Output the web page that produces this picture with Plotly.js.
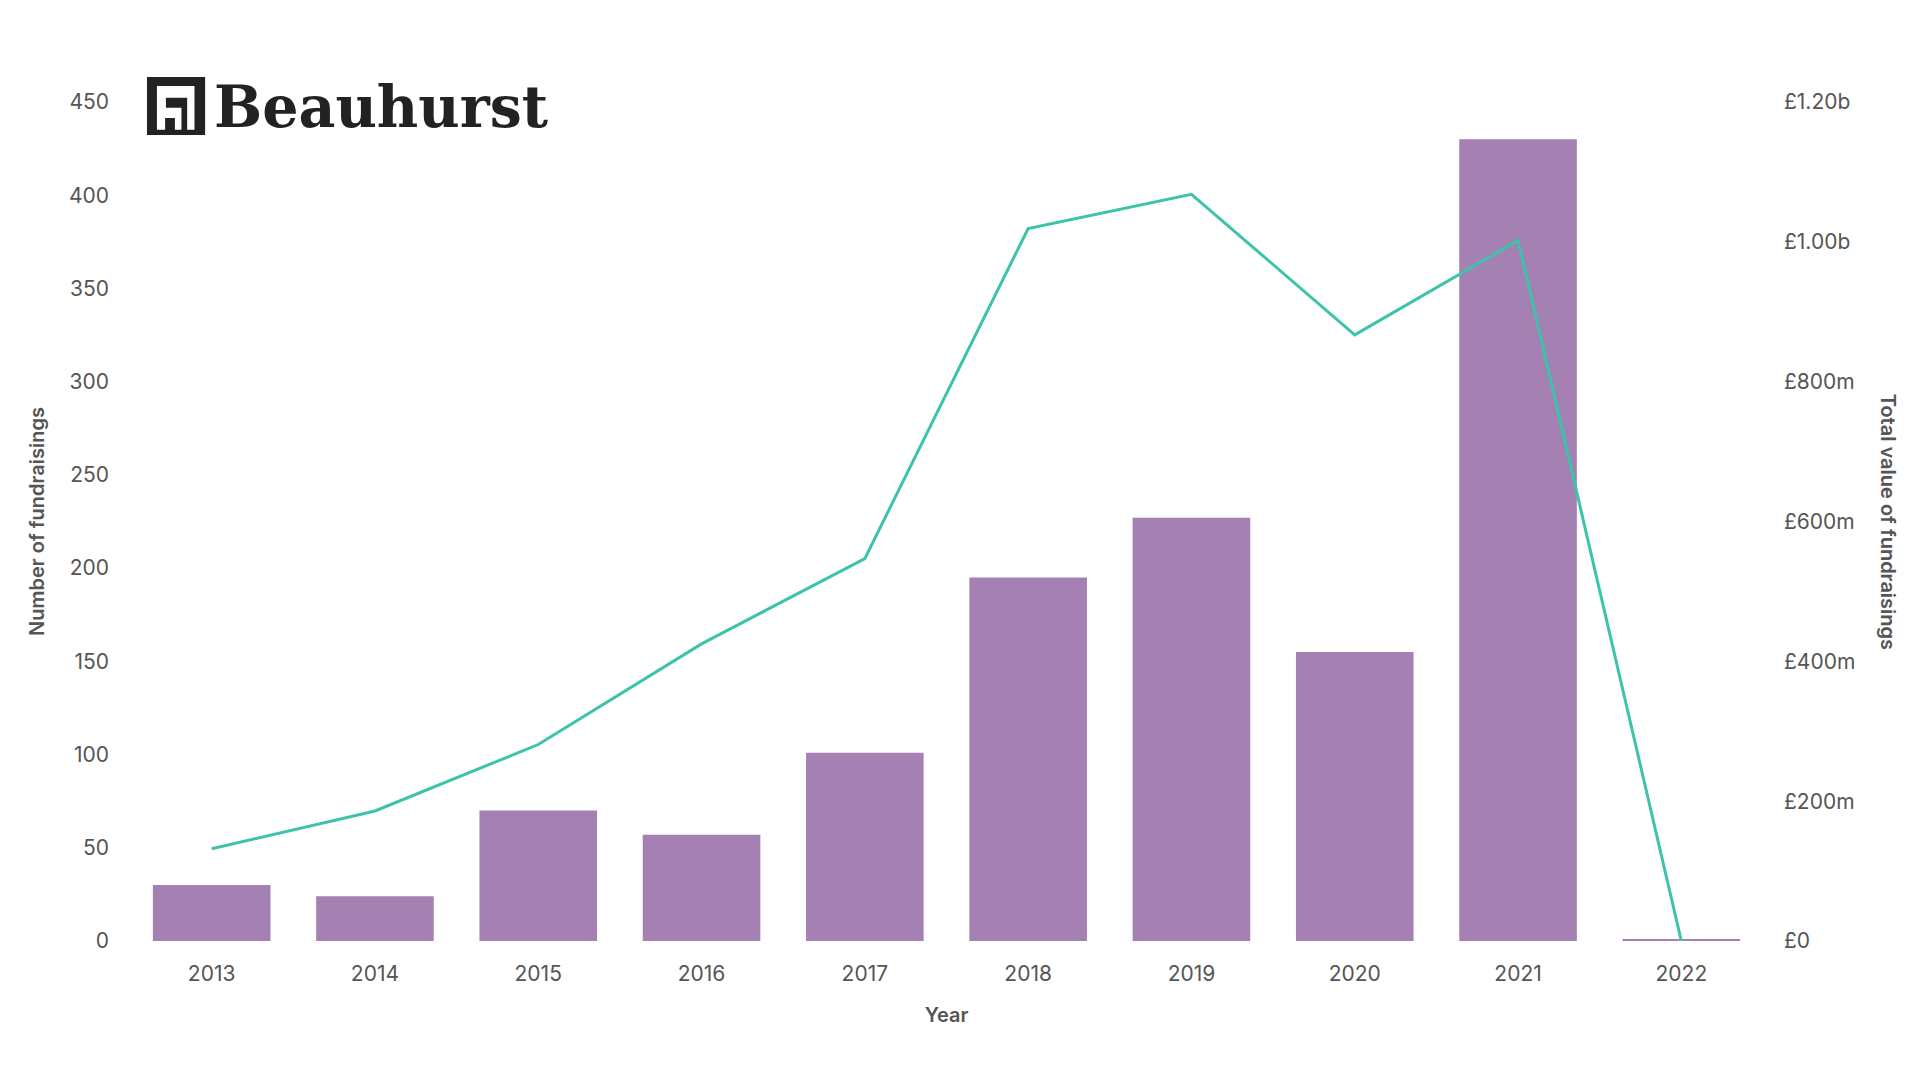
<!DOCTYPE html>
<html><head><script src="https://cdn.plot.ly/plotly-3.0.1.min.js"></script>
<style>body{margin:0;background:#fff}#c{width:1920px;height:1080px}</style></head>
<body><div id="c"></div><script>
const years=['2013','2014','2015','2016','2017','2018','2019','2020','2021','2022'];
const counts=[30,24,70,57,101,195,227,155,430,1];
const values=[132e6,186e6,281e6,425e6,547e6,1019e6,1068e6,867e6,1002e6,0];
const rightTickVals=[0,200e6,400e6,600e6,800e6,1000e6,1200e6];
const rightTickText=['£0','£200m','£400m','£600m','£800m','£1.00b','£1.20b'];
const f={family:'Inter, Roboto, sans-serif',size:21,color:'#555'};
const tf={family:'Inter, Roboto, sans-serif',size:20,color:'#555',weight:600};
Plotly.newPlot('c',[
 {type:'bar',x:years,y:counts,marker:{color:'#a580b2'},width:0.72,hoverinfo:'none'},
 {type:'scatter',mode:'lines',x:years,y:values,yaxis:'y2',line:{color:'#3cc3aa',width:3}}
],{
 width:1920,height:1080,showlegend:false,paper_bgcolor:'#fff',plot_bgcolor:'#fff',
 margin:{l:130,r:157,t:102,b:139},
 font:f,
 xaxis:{type:'category',showgrid:false,showline:false,ticks:'outside',ticklen:14,tickcolor:'rgba(0,0,0,0)',tickfont:f,
   title:{text:'Year',font:tf,standoff:22}},
 yaxis:{range:[0,450],dtick:50,showgrid:false,zeroline:false,tickfont:f,ticklabelstandoff:20,
   title:{text:'Number of fundraisings',font:tf,standoff:18}},
 yaxis2:{overlaying:'y',side:'right',range:[0,1.2e9],tickvals:rightTickVals,ticktext:rightTickText,
   showgrid:false,zeroline:false,tickfont:f,ticklabelstandoff:20},
 shapes:[{type:'rect',xref:'paper',yref:'paper',x0:0.0104,x1:0.046,y0:0.9607,y1:1.0298,fillcolor:'#222',line:{width:0}},
  {type:'path',xref:'paper',yref:'paper',path:'M 0.0165,0.967 L 0.0165,1.019 L 0.0395,1.019 L 0.0395,0.967 L 0.0350,0.967 L 0.0350,1.005 L 0.0220,1.005 L 0.0220,0.993 L 0.0315,0.993 L 0.0315,0.967 L 0.0275,0.967 L 0.0275,0.981 L 0.0215,0.981 L 0.0215,0.967 Z',fillcolor:'#fff',line:{width:0}}],
 annotations:[{xref:'paper',yref:'paper',x:0.05,y:0.995,xanchor:'left',yanchor:'middle',showarrow:false,
   text:'Beauhurst',font:{family:'DejaVu Serif, Liberation Serif, serif',size:57,color:'#222',weight:600}},
  {xref:'paper',yref:'paper',x:1.077,y:0.5,xanchor:'center',yanchor:'middle',showarrow:false,textangle:90,
   text:'Total value of fundraisings',font:tf}]
},{displayModeBar:false});
</script></body></html>
